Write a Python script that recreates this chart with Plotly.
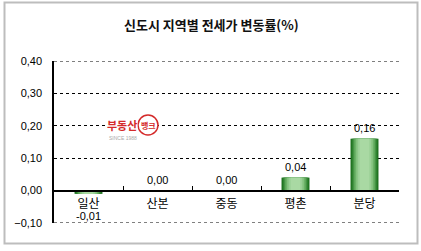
import plotly.graph_objects as go

title_text = "신도시 지역별 전세가 변동률(%)"
categories = ["일산", "산본", "중동", "평촌", "분당"]
values = [-0.01, 0.00, 0.00, 0.04, 0.16]
y_ticks = [-0.10, 0.00, 0.10, 0.20, 0.30, 0.40]

FONT = "Liberation Sans, Noto Sans CJK KR, sans-serif"
KFONT = "Noto Sans CJK KR, sans-serif"

# simulated horizontal gradient: stacked overlay layers (outer dark -> inner light)
layers = [
    (0.405, "#1a6e1c"),
    (0.375, "#2a7e2b"),
    (0.34, "#449444"),
    (0.30, "#62ab5f"),
    (0.255, "#82c27d"),
    (0.20, "#9ad096"),
    (0.14, "#a9d9a3"),
]

fig = go.Figure()
for w, c in layers:
    fig.add_trace(go.Bar(
        x=categories, y=values, width=w,
        marker=dict(color=c, line=dict(width=0)),
        hoverinfo="skip", showlegend=False,
    ))

def fmt(v):
    return f"{v:.2f}".replace(".", ",")

W, H = 421, 251
L, R, T, B = 54, 22, 61, 28
pw, ph = W - L - R, H - T - B

def px2x(px):
    return (px - L) / pw

def py2y(py):
    return (H - B - py) / ph

annotations = []
for cat, v in zip(categories, values):
    if v >= 0:
        annotations.append(dict(x=cat, y=v, xref="x", yref="y", text=fmt(v),
                                showarrow=False, yanchor="bottom", yshift=3,
                                font=dict(family=FONT, size=11, color="#000")))
    else:
        annotations.append(dict(x=cat, y=v, xref="x", yref="y", text=fmt(v),
                                showarrow=False, yanchor="top", yshift=-14,
                                font=dict(family=FONT, size=11, color="#000")))

# title
annotations.append(dict(x=px2x(211), y=py2y(25), xref="paper", yref="paper",
                        text="<b>" + title_text + "</b>",
                        showarrow=False, font=dict(family=KFONT, size=13, color="#111"),
                        yanchor="middle", xanchor="center"))

# watermark logo
annotations.append(dict(x=px2x(122), y=py2y(124.5), xref="paper", yref="paper", text="<b>부동산</b>",
                        showarrow=False, font=dict(family=KFONT, size=11, color="#d42a2a"),
                        xanchor="center", yanchor="middle", bgcolor="white", borderpad=0))
annotations.append(dict(x=px2x(123), y=py2y(137.5), xref="paper", yref="paper", text="SINCE 1988",
                        showarrow=False, font=dict(family=FONT, size=5, color="#aaaaaa"),
                        xanchor="center", yanchor="middle"))
annotations.append(dict(x=px2x(148), y=py2y(125), xref="paper", yref="paper", text="<b>뱅크</b>",
                        showarrow=False, font=dict(family=KFONT, size=8, color="#d42a2a"),
                        xanchor="center", yanchor="middle"))

shapes = [
    dict(type="rect", xref="paper", yref="paper",
         x0=px2x(4.5), x1=px2x(417.5), y0=py2y(243.5), y1=py2y(2.5),
         line=dict(color="#bdbdbd", width=2), fillcolor="rgba(0,0,0,0)", layer="below"),
    dict(type="circle", xref="paper", yref="paper",
         x0=px2x(138), x1=px2x(158), y0=py2y(135), y1=py2y(115),
         line=dict(color="#d42a2a", width=1.5), fillcolor="white"),
]
# gridlines at the range ends (plotly omits them at the plot edges)
for yv in (min(y_ticks), max(y_ticks)):
    shapes.append(dict(type="line", xref="paper", yref="y", x0=0, x1=1, y0=yv, y1=yv,
                       line=dict(color="black", width=1, dash="3px,3px"), layer="below"))

fig.update_layout(
    width=W, height=H,
    margin=dict(l=L, r=R, t=T, b=B),
    paper_bgcolor="white", plot_bgcolor="white",
    barmode="overlay",
    separators=",.",
    annotations=annotations,
    shapes=shapes,
    showlegend=False,
    xaxis=dict(
        type="category",
        anchor="free", position=0.2,
        showline=True, linecolor="black", linewidth=1.5,
        ticks="inside", ticklen=4, tickcolor="black", tickwidth=1,
        tickson="boundaries",
        showgrid=False, zeroline=False,
        tickfont=dict(family=KFONT, size=12, color="#000"),
        ticklabelstandoff=2,
    ),
    yaxis=dict(
        range=[-0.1, 0.4],
        tickvals=y_ticks,
        tickformat=".2f",
        showline=True, linecolor="black", linewidth=1.5,
        showgrid=True, gridcolor="black", gridwidth=1, griddash="3px,3px",
        zeroline=False,
        ticks="", ticklabelstandoff=8,
        tickfont=dict(family=FONT, size=11, color="#000"),
    ),
)

fig.write_html("out.html")
